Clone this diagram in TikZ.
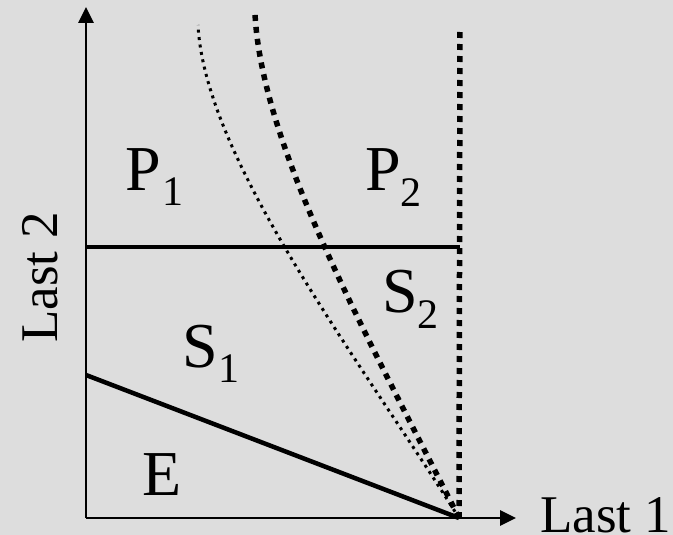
\documentclass[tikz,border=0pt]{standalone}
\usepackage{fontspec}
\setmainfont{Liberation Serif}
\usetikzlibrary{arrows.meta}
\definecolor{bg}{HTML}{DDDDDD}
\begin{document}
\begin{tikzpicture}[x=1pt,y=-1pt,
  axis/.style={line width=2.8pt,-{Triangle[length=16pt,width=15pt]}},
  bound/.style={line width=4.5pt},
  thindot/.style={line width=3pt,dash pattern=on 3pt off 4.5pt},
  thickdot/.style={line width=5.5pt,dash pattern=on 6pt off 6pt},
  biglab/.style={anchor=base west,inner sep=0pt,font=\fontsize{64}{64}\selectfont},
  axlab/.style={anchor=base west,inner sep=0pt,font=\fontsize{53}{53}\selectfont}]
\fill[bg] (0,0) rectangle (673,535);
\useasboundingbox (0,0) rectangle (673,535);
\coordinate (O) at (86,518);
\coordinate (Ytip) at (86,7);
\coordinate (Xtip) at (516,518);
\coordinate (B) at (459,518);
\coordinate (Vtop) at (460,28);
\coordinate (Hl) at (86,247);
\coordinate (Hr) at (460,247);
\coordinate (El) at (86,375);
\coordinate (T1) at (198,25);
\coordinate (T2) at (255,14);
\draw[thickdot] (B) -- (Vtop);
\draw[thindot] (B) .. controls (360,360) and (205,160) .. (T1);
\draw[thickdot] (B) .. controls (372,345) and (262,150) .. (T2);
\draw[bound] (Hl) -- (Hr);
\draw[bound] (El) -- (B);
\draw[axis] (O) -- (Ytip);
\draw[axis] (O) -- (Xtip);
\node[biglab] (p1) at (125,190) {P\kern2pt\raisebox{-15pt}{\fontsize{42}{42}\selectfont 1}};
\node[biglab] (p2) at (365,190) {P\kern0pt\raisebox{-16pt}{\fontsize{42}{42}\selectfont 2}};
\node[biglab] (s1) at (182,367) {S\kern1pt\raisebox{-15pt}{\fontsize{42}{42}\selectfont 1}};
\node[biglab] (s2) at (382,312) {S\kern0pt\raisebox{-16pt}{\fontsize{42}{42}\selectfont 2}};
\node[biglab] (e) at (142,495) {E};
\node[axlab] (l1) at (540,532) {Last 1};
\node[axlab,rotate=90] (l2) at (57,343) {Last 2};
\end{tikzpicture}
\end{document}
